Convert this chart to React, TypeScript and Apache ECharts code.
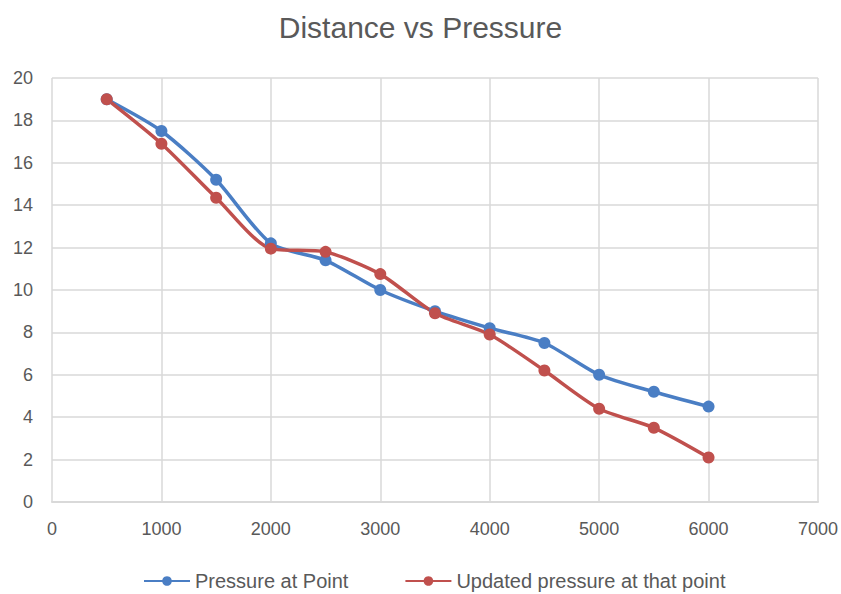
import React, { useEffect, useRef } from "react";
import * as echarts from "echarts";

const distances = [500, 1000, 1500, 2000, 2500, 3000, 3500, 4000, 4500, 5000, 5500, 6000];
const pressureAtPoint = [19, 17.5, 15.2, 12.2, 11.4, 10, 9.0, 8.2, 7.5, 6.0, 5.2, 4.5];
const updatedPressure = [19, 16.9, 14.35, 11.95, 11.8, 10.75, 8.9, 7.9, 6.2, 4.4, 3.5, 2.1];
const seriesNames = ["Pressure at Point", "Updated pressure at that point"];

export default function App() {
  const ref = useRef<HTMLDivElement>(null);
  useEffect(() => {
    const chart = echarts.init(ref.current!, null, { renderer: "svg" });
    const font = "Liberation Sans, Arial, sans-serif";
    const mk = (name: string, vals: number[], color: string) => ({
      name,
      type: "line",
      data: distances.map((d, i) => [d, vals[i]]),
      smooth: 0.25,
      symbol: "circle",
      symbolSize: 12,
      lineStyle: { color, width: 3.5 },
      itemStyle: { color },
    });
    chart.setOption({
      animation: false,
      backgroundColor: "#ffffff",
      title: {
        text: "Distance vs Pressure",
        left: "center",
        top: 7,
        textStyle: { fontFamily: font, fontSize: 30, fontWeight: "normal", color: "#595959" },
      },
      legend: {
        top: 571,
        left: 143,
        padding: 0,
        itemGap: 56,
        itemWidth: 46,
        itemHeight: 12,
        textStyle: { fontFamily: font, fontSize: 20, color: "#595959" },
        data: seriesNames,
      },
      grid: { left: 52, right: 21, top: 78, bottom: 92 },
      xAxis: {
        type: "value",
        min: 0,
        max: 7000,
        interval: 1000,
        axisLine: { show: true, lineStyle: { color: "#d9d9d9", width: 2 } },
        axisTick: { show: false },
        axisLabel: {
          fontFamily: font,
          fontSize: 18,
          color: "#595959",
          margin: 18,
          formatter: (v: number) => String(v),
        },
        splitLine: { show: true, lineStyle: { color: "#d9d9d9", width: 1.5 } },
      },
      yAxis: {
        type: "value",
        min: 0,
        max: 20,
        interval: 2,
        axisLine: { show: false },
        axisTick: { show: false },
        axisLabel: { fontFamily: font, fontSize: 18, color: "#595959", margin: 19 },
        splitLine: { show: true, lineStyle: { color: "#d9d9d9", width: 1.5 } },
      },
      series: [
        mk(seriesNames[0], pressureAtPoint, "#4a7ec4"),
        mk(seriesNames[1], updatedPressure, "#c0504d"),
      ],
    });
    return () => chart.dispose();
  }, []);
  return (
    <div
      ref={ref}
      style={{ position: "fixed", left: 0, top: 0, width: 841, height: 594 }}
    />
  );
}
